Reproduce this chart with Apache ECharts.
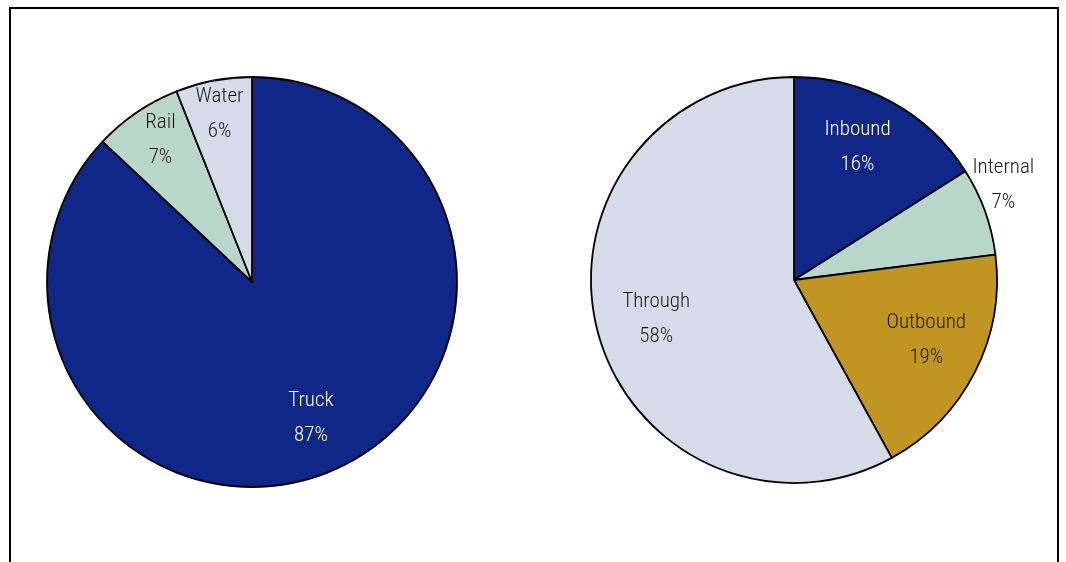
<!DOCTYPE html>
<html><head><meta charset="utf-8">
<script src="https://cdn.jsdelivr.net/npm/echarts@6/dist/echarts.min.js"></script>
<style>
html,body{margin:0;padding:0;background:#fff;}
#frame{position:absolute;left:9px;top:7px;width:1050px;height:560px;border:2px solid #000;border-bottom:none;box-sizing:border-box;}
#chart{position:absolute;left:0;top:0;width:1066px;height:562px;}
</style></head>
<body>
<div id="frame"></div>
<div id="chart"></div>
<script>
// Left pie: mode share
const modeNames = ['Truck', 'Rail', 'Water'];
const modeValues = [87, 7, 6];
// Right pie: direction share
const dirNames = ['Inbound', 'Internal', 'Outbound', 'Through'];
const dirValues = [16, 7, 19, 58];

const colorsLeft = ['#0F2787', '#B9D6CB', '#D5DBE9'];
const colorsRight = ['#0F2787', '#B9D6CB', '#C19522', '#D5DBE9'];
const labelColorLeft = ['#fff', '#1a1a1a', '#1a1a1a'];
const labelColorRight = ['#fff', '#1a1a1a', '#1a1a1a', '#1a1a1a'];

const FONT = '"Liberation Sans Narrow", "Arial Narrow", "Roboto Condensed", sans-serif';

function fillData(names, values, colors) {
  return names.map((n, i) => ({ name: n, value: values[i], itemStyle: { color: colors[i] } }));
}
function labelData(names, values, labColors, show, offsets) {
  return names.map((n, i) => ({
    name: n, value: values[i],
    label: { show: show[i], color: labColors[i], offset: offsets ? offsets[i] : [0, 0] }
  }));
}
const baseLabel = {
  position: 'inside', formatter: '{b}\n{c}%', fontFamily: FONT, fontSize: 21, fontWeight: 300, lineHeight: 35
};
const transparentItem = { color: 'rgba(0,0,0,0)', borderWidth: 0 };

const option = {
  animation: false,
  series: [
    {
      type: 'pie', center: [252, 282], radius: [0, 205], startAngle: 90, clockwise: true,
      label: { show: false }, labelLine: { show: false }, silent: true,
      itemStyle: { borderColor: '#000', borderWidth: 1.8 },
      data: fillData(modeNames, modeValues, colorsLeft)
    },
    {
      type: 'pie', center: [252, 282], radius: [86, 205], startAngle: 90, clockwise: true,
      silent: true, itemStyle: transparentItem, labelLine: { show: false },
      label: baseLabel,
      data: labelData(modeNames, modeValues, labelColorLeft, [true, false, false])
    },
    {
      type: 'pie', center: [252, 282], radius: [136, 205], startAngle: 90, clockwise: true,
      silent: true, itemStyle: transparentItem, labelLine: { show: false },
      label: baseLabel,
      data: labelData(modeNames, modeValues, labelColorLeft, [false, true, true], [[0,0],[6,2],[0,3]])
    },
    {
      type: 'pie', center: [794, 280], radius: [0, 203], startAngle: 90, clockwise: true,
      label: { show: false }, labelLine: { show: false }, silent: true,
      itemStyle: { borderColor: '#000', borderWidth: 1.8 },
      data: fillData(dirNames, dirValues, colorsRight)
    },
    {
      type: 'pie', center: [794, 280], radius: [88, 203], startAngle: 90, clockwise: true,
      silent: true, itemStyle: transparentItem, labelLine: { show: false },
      label: baseLabel,
      data: labelData(dirNames, dirValues, labelColorRight, [true, false, true, true],
        [[-8,-3],[0,0],[0,-7],[6,2]])
    },
    {
      type: 'pie', center: [794, 280], radius: [203, 253], startAngle: 90, clockwise: true,
      silent: true, itemStyle: transparentItem, labelLine: { show: false },
      label: baseLabel,
      data: labelData(dirNames, dirValues, labelColorRight, [false, true, false, false],
        [[0,0],[-8,-17],[0,0],[0,0]])
    }
  ]
};
const chart = echarts.init(document.getElementById('chart'), null, { renderer: 'canvas' });
chart.setOption(option);
</script>
</body></html>
